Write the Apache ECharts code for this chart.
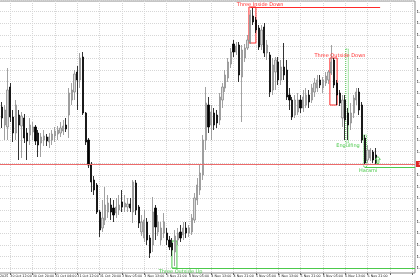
<!DOCTYPE html>
<html><head><meta charset="utf-8">
<script src="https://cdn.jsdelivr.net/npm/echarts@6/dist/echarts.min.js"></script>
<style>html,body{margin:0;padding:0;background:#fff;overflow:hidden}#c{width:420px;height:280px}</style>
</head><body><div id="c"></div><script>
// trading sessions (day, first hour, last hour) -> hourly categories
const sessions = [['30 Oct',4,23],['31 Oct',0,23],['3 Nov',1,23],['4 Nov',0,23],['5 Nov',0,23],['6 Nov',0,23],['7 Nov',0,14]];
const firstLabel = '30 Oct 2025';
const firstBar = 4; // first category index with data
const opens = [
1.1582,1.1593,1.1575,1.1573,1.1613,1.1583,1.1567,1.1585,1.1574,1.1582,
1.1567,1.1565,1.1568,1.1573,1.1567,1.1557,1.1560,1.1563,1.1558,1.1560,
1.1564,1.1566,1.1567,1.1569,1.1575,1.1585,1.1600,1.1608,1.1628,1.1620,
1.1643,1.1587,1.1560,1.1535,1.1520,1.1515,1.1488,1.1472,1.1480,1.1488,
1.1495,1.1492,1.1487,1.1490,1.1498,1.1493,1.1493,1.1496,1.1488,1.1517,
1.1493,1.1468,1.1462,1.1478,1.1462,1.1455,1.1492,1.1468,1.1460,1.1467,
1.1467,1.1460,1.1457,1.1448,1.1460,1.1468,1.1465,1.1472,1.1467,1.1468,
1.1480,1.1500,1.1510,1.1525,1.1560,1.1595,1.1575,1.1587,1.1585,1.1580,
1.1600,1.1612,1.1622,1.1636,1.1656,1.1648,1.1655,1.1623,1.1642,1.1652,
1.1658,1.1684,1.1680,1.1672,1.1655,1.1673,1.1647,1.1645,1.1610,1.1628,
1.1638,1.1620,1.1633,1.1630,1.1605,1.1600,1.1585,1.1588,1.1600,1.1592,
1.1595,1.1605,1.1600,1.1608,1.1612,1.1620,1.1612,1.1617,1.1620,1.1627,
1.1640,1.1617,1.1607,1.1582,1.1600,1.1587,1.1577,1.1587,1.1600,1.1608,
1.1595,1.1562,1.1540,1.1542,1.1548,1.1545];
const closes = [
1.1593,1.1582,1.1590,1.1610,1.1583,1.1567,1.1595,1.1575,1.1584,1.1562,
1.1559,1.1575,1.1573,1.1559,1.1555,1.1563,1.1564,1.1559,1.1563,1.1566,
1.1569,1.1570,1.1572,1.1574,1.1571,1.1607,1.1610,1.1626,1.1620,1.1642,
1.1587,1.1558,1.1535,1.1518,1.1510,1.1488,1.1470,1.1482,1.1495,1.1497,
1.1488,1.1485,1.1493,1.1495,1.1493,1.1497,1.1496,1.1492,1.1518,1.1490,
1.1477,1.1478,1.1480,1.1460,1.1447,1.1488,1.1473,1.1478,1.1472,1.1478,
1.1460,1.1453,1.1450,1.1464,1.1467,1.1462,1.1472,1.1467,1.1472,1.1482,
1.1502,1.1515,1.1527,1.1560,1.1597,1.1573,1.1588,1.1575,1.1577,1.1603,
1.1613,1.1625,1.1638,1.1648,1.1648,1.1654,1.1625,1.1650,1.1652,1.1660,
1.1685,1.1678,1.1670,1.1653,1.1670,1.1647,1.1655,1.1608,1.1635,1.1640,
1.1620,1.1633,1.1625,1.1603,1.1600,1.1583,1.1600,1.1600,1.1592,1.1603,
1.1605,1.1598,1.1612,1.1617,1.1620,1.1615,1.1620,1.1624,1.1628,1.1638,
1.1615,1.1605,1.1597,1.1600,1.1580,1.1575,1.1587,1.1602,1.1608,1.1590,
1.1560,1.1537,1.1550,1.1550,1.1540,1.1537];
const lows = [
1.1575,1.1572,1.1560,1.1560,1.1578,1.1558,1.1560,1.1540,1.1542,1.1557,
1.1540,1.1555,1.1560,1.1555,1.1543,1.1543,1.1554,1.1554,1.1552,1.1555,
1.1558,1.1560,1.1563,1.1565,1.1568,1.1562,1.1595,1.1600,1.1590,1.1612,
1.1585,1.1555,1.1532,1.1508,1.1505,1.1486,1.1463,1.1468,1.1475,1.1482,
1.1480,1.1478,1.1482,1.1485,1.1488,1.1488,1.1488,1.1488,1.1477,1.1485,
1.1472,1.1464,1.1458,1.1455,1.1442,1.1448,1.1460,1.1464,1.1455,1.1462,
1.1455,1.1450,1.1444,1.1434,1.1455,1.1458,1.1460,1.1462,1.1463,1.1465,
1.1477,1.1495,1.1505,1.1520,1.1550,1.1567,1.1560,1.1570,1.1572,1.1575,
1.1592,1.1608,1.1618,1.1632,1.1643,1.1645,1.1618,1.1578,1.1638,1.1650,
1.1656,1.1675,1.1667,1.1650,1.1650,1.1643,1.1640,1.1603,1.1605,1.1610,
1.1615,1.1615,1.1620,1.1600,1.1590,1.1580,1.1582,1.1585,1.1587,1.1588,
1.1592,1.1592,1.1597,1.1603,1.1608,1.1612,1.1607,1.1614,1.1616,1.1625,
1.1612,1.1595,1.1594,1.1573,1.1560,1.1560,1.1570,1.1582,1.1595,1.1585,
1.1557,1.1535,1.1537,1.1539,1.1537,1.1535];
const highs = [
1.1600,1.1598,1.1595,1.1632,1.1617,1.1590,1.1600,1.1590,1.1588,1.1586,
1.1572,1.1582,1.1578,1.1575,1.1570,1.1567,1.1570,1.1566,1.1567,1.1570,
1.1573,1.1574,1.1578,1.1580,1.1582,1.1612,1.1617,1.1630,1.1634,1.1647,
1.1648,1.1588,1.1562,1.1538,1.1524,1.1517,1.1490,1.1500,1.1513,1.1505,
1.1502,1.1500,1.1502,1.1505,1.1510,1.1505,1.1502,1.1502,1.1520,1.1520,
1.1495,1.1485,1.1490,1.1482,1.1465,1.1503,1.1495,1.1485,1.1478,1.1487,
1.1472,1.1464,1.1462,1.1470,1.1472,1.1475,1.1478,1.1478,1.1475,1.1486,
1.1507,1.1522,1.1535,1.1565,1.1613,1.1603,1.1595,1.1592,1.1590,1.1607,
1.1617,1.1630,1.1642,1.1652,1.1660,1.1658,1.1658,1.1655,1.1656,1.1665,
1.1690,1.1693,1.1683,1.1675,1.1675,1.1677,1.1660,1.1648,1.1642,1.1643,
1.1643,1.1640,1.1657,1.1640,1.1612,1.1603,1.1605,1.1607,1.1605,1.1610,
1.1612,1.1610,1.1616,1.1622,1.1625,1.1625,1.1623,1.1628,1.1630,1.1655,
1.1642,1.1620,1.1610,1.1605,1.1605,1.1592,1.1597,1.1605,1.1612,1.1612,
1.1598,1.1565,1.1555,1.1552,1.1550,1.1552];
// right price scale labels (bottom -> top), mostly cut off by the window edge
const priceLabels = ['1.14317','1.14433','1.14550','1.14667','1.14783','1.14900','1.15017','1.15133',
'1.15250','1.15367','1.15483','1.15600','1.15717','1.15833','1.15950','1.16067','1.16183','1.16300',
'1.16417','1.16533','1.16650','1.16767','1.16883','1.17000'];
const bidPrice = 1.1536;
const bidLabel = '1.15360';
// pattern annotations: box = [x1, x2 (bar index), price1, price2]
const patterns = [
  {name:'Three Inside Down', color:'#ff2a2a', box:[93.5,96.0,1.1693,1.1657], text:[97.5,1.16955], dotted:false},
  {name:'Three Outside Down', color:'#ff2a2a', box:[122.5,125.1,1.1642,1.1595], text:[126.1,1.1644], dotted:false},
  {name:'Three Outside Up', color:'#4cc94c', box:[65.9,67.7,1.1459,1.1432], text:[69.0,1.14285], dotted:false},
  {name:'Engulfing', color:'#4cc94c', box:[128.2,129.1,1.1651,1.1557], text:[129.0,1.1554], dotted:true},
  {name:'Harami', color:'#4cc94c', box:[134.6,135.6,1.1565,1.1533], text:[136.2,1.15295], dotted:true}
];
const levelLines = [
  {from:94, to:140.5, price:1.1693, color:'#ff2a2a'},
  {from:135, to:153, price:1.1533, color:'#4cc94c'},
  {from:66, to:153, price:1.1432, color:'#4cc94c'}
];
const arrowPoint = [139.7, 1.1540];

const categories = [];
sessions.forEach(([d,a,b]) => { for (let h=a; h<=b; h++) categories.push(d+' '+String(h).padStart(2,'0')+':00'); });
const lastBar = firstBar + opens.length - 1;
const candleData = categories.map((c,i) => {
  const k = i - firstBar;
  return (k >= 0 && k < opens.length) ? [opens[k], closes[k], lows[k], highs[k]] : ['-','-','-','-'];
});
const N = categories.length;

const chart = echarts.init(document.getElementById('c'), null, {renderer:'canvas'});
const font = 'DejaVu Sans';
chart.setOption({
  animation:false,
  backgroundColor:'#ffffff',
  grid:[
    {left:-12, right:5, top:1, bottom:7, show:true, borderColor:'#8c8c8c', borderWidth:1, backgroundColor:'transparent', containLabel:false, outerBoundsMode:'none'},
    {left:-12, right:5, top:0, height:268.33, show:false, containLabel:false, outerBoundsMode:'none'}
  ],
  xAxis:[
    {type:'category', gridIndex:0, data:categories, boundaryGap:false,
     axisLine:{show:false}, axisTick:{show:true, interval:7, length:2, lineStyle:{color:'#666'}},
     axisLabel:{interval:7, align:'left', fontSize:3.3, fontFamily:font, color:'#111', margin:1.5, hideOverlap:false,
       formatter:(v,i)=> i===0 ? firstLabel : (i>lastBar ? '' : v)},
     splitLine:{show:true, interval:7, lineStyle:{color:'#d6d6d6', type:[1,1], width:1}}},
    {type:'value', gridIndex:1, min:0, max:1, show:false},
    {type:'value', gridIndex:0, min:0, max:N-1, show:false}
  ],
  yAxis:[
    {type:'value', gridIndex:0, min:1.1427, max:1.1699, show:false, splitLine:{show:false}},
    {type:'category', gridIndex:1, data:priceLabels, boundaryGap:false, position:'right',
     axisLine:{show:false}, axisTick:{show:true, length:2, lineStyle:{color:'#666'}},
     axisLabel:{fontSize:4, fontFamily:font, color:'#111', margin:1.5, showMaxLabel:false, hideOverlap:false},
     splitLine:{show:true, lineStyle:{color:'#d6d6d6', type:[1,1], width:1}}}
  ],
  series:[
    {type:'candlestick', xAxisIndex:0, yAxisIndex:0, data:candleData, barWidth:1.7,
     itemStyle:{color:'#dadada', color0:'#000000', borderColor:'#8a8a8a', borderColor0:'#000000', borderWidth:0.8}},
    {type:'scatter', xAxisIndex:2, yAxisIndex:0, data:[], silent:true,
     markLine:{silent:true, symbol:'none', animation:false, precision:6,
       data:[
         {yAxis:bidPrice, lineStyle:{color:'#ec6a6a', width:1, type:'solid'},
          label:{show:true, position:'end', formatter:bidLabel, distance:1, fontSize:4, fontFamily:font,
                 color:'#fff', backgroundColor:'#e02424', padding:[1,2]}},
         ...levelLines.map(l => [
           {coord:[l.from, l.price], lineStyle:{color:l.color, width:1, type:'solid'}, label:{show:false}},
           {coord:[l.to, l.price]}])
       ]},
     markArea:{silent:true,
       data: patterns.map(p => [
         {coord:[p.box[0], p.box[2]], itemStyle:{color:'rgba(0,0,0,0)', borderColor:p.color, borderWidth:1,
           borderType: p.dotted ? [1,1] : 'solid'}, label:{show:false}},
         {coord:[p.box[1], p.box[3]]}])},
     markPoint:{silent:true, animation:false,
       data:[
         ...patterns.map(p => ({coord:p.text, symbol:'circle', symbolSize:1, itemStyle:{color:'rgba(0,0,0,0)'},
           label:{show:true, position:'inside', formatter:p.name, fontSize:5, fontFamily:font, color:p.color}})),
         {coord:arrowPoint, symbol:'path://M5,0 L10,5 L7,5 L7,12 L3,12 L3,5 L0,5 Z', symbolSize:[5,7],
          itemStyle:{color:'#ffffff', borderColor:'#4cc94c', borderWidth:0.8}, label:{show:false}}
       ]}}
  ]
});
</script></body></html>
